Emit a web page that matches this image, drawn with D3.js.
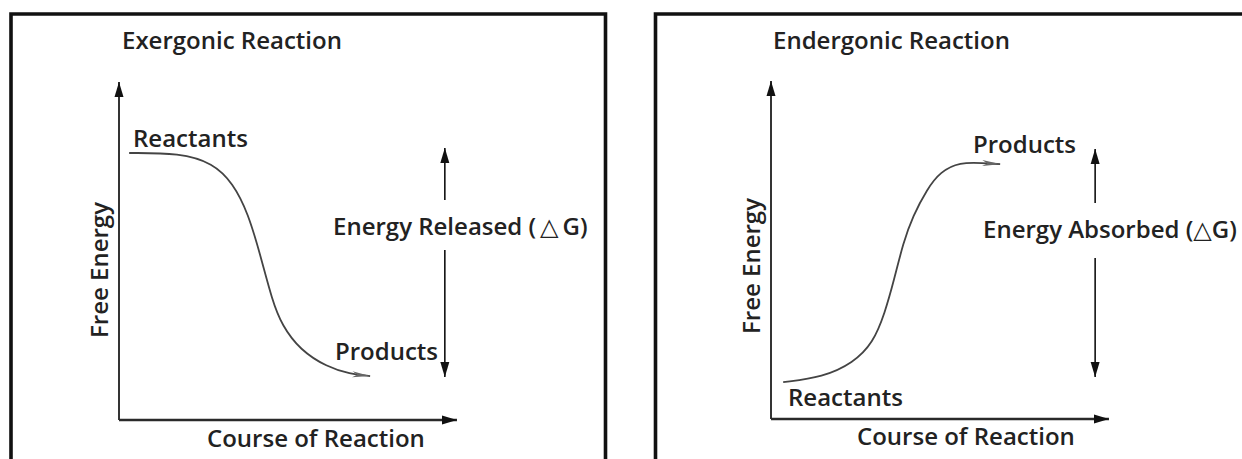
<!DOCTYPE html>
<html>
<head>
<meta charset="utf-8">
<script src="https://d3js.org/d3.v7.min.js"></script>
<style>
  html, body { margin: 0; padding: 0; background: #fff; }
  svg { display: block; }
  text { font-family: "Open Sans", "DejaVu Sans", sans-serif; fill: #222; font-weight: 600; }
</style>
</head>
<body>
<div id="chart"></div>
<script>
// Data (course of reaction 0-100, free energy 0-100)
const panelTitles = ["Exergonic Reaction", "Endergonic Reaction"];
const deltaLabels = ["Energy Released (\u2009\u25B3\u2009G)", "Energy Absorbed (\u25B3G)"];

const exergonicCurve = [
    [3.0, 79.0], [18.0, 79.0], [27.8, 76.0], [33.7, 70.1], [38.2, 61.2],
    [41.9, 48.5], [45.3, 35.5], [48.2, 28.0], [53.6, 20.7], [61.5, 15.7],
    [68.3, 13.6], [74.3, 13.0]
];
const endergonicCurve = [
    [3.6, 10.9], [15.4, 12.4], [24.3, 16.6], [30.2, 22.5], [33.7, 31.4],
    [36.4, 41.1], [39.1, 52.1], [42.0, 60.1], [46.2, 68.0], [50.0, 73.1],
    [55.9, 76.0], [62.7, 75.7], [67.8, 75.4]
];

// energy levels for the delta G arrows: [x, top, bottom]
const exergonicDelta = [96.4, 80.5, 12.7];
const endergonicDelta = [95.9, 79.9, 12.4];

// Layout
const W = 1242, H = 459;
const axisLen = 338;

const panels = [
    {
        title: panelTitles[0], curve: exergonicCurve, delta: exergonicDelta, deltaLabel: deltaLabels[0],
        frame: { x1: 11, x2: 605.5 }, origin: { x: 119, y: 420 },
        titlePos: [122, 49], reactPos: [133, 147], prodPos: [335, 360],
        coursePos: [207, 447], freePos: [108, 270], deltaPos: [333, 235], gap: [200, 250]
    },
    {
        title: panelTitles[1], curve: endergonicCurve, delta: endergonicDelta, deltaLabel: deltaLabels[1],
        frame: { x1: 655.5, x2: 1300 }, origin: { x: 771, y: 419 },
        titlePos: [773, 49], reactPos: [788, 406], prodPos: [973, 153],
        coursePos: [857, 445], freePos: [760, 266], deltaPos: [983, 238], gap: [203, 258]
    }
];

const svg = d3.select("#chart").append("svg").attr("width", W).attr("height", H);
svg.append("rect").attr("width", W).attr("height", H).attr("fill", "#fff");

// --- MARKERS ---
const defs = svg.append("defs");
defs.append("marker").attr("id", "axisHead")
    .attr("markerUnits", "userSpaceOnUse").attr("viewBox", "0 -5 15 10")
    .attr("refX", 15).attr("refY", 0).attr("markerWidth", 15).attr("markerHeight", 10)
    .attr("orient", "auto")
    .append("path").attr("d", "M0,-4.5L15,0L0,4.5Z").attr("fill", "#111");
defs.append("marker").attr("id", "curveHead")
    .attr("markerUnits", "userSpaceOnUse").attr("viewBox", "0 -4 18 8")
    .attr("refX", 18).attr("refY", 0).attr("markerWidth", 18).attr("markerHeight", 8)
    .attr("orient", "auto")
    .append("path").attr("d", "M0,-3L18,0L0,3L5,0Z").attr("fill", "#666");

function drawPanel(p) {
    const g = svg.append("g");

    // frame (open at the bottom / right edge of the window)
    g.append("path")
        .attr("d", `M${p.frame.x1},${H + 10}V14H${p.frame.x2}V${H + 10}`)
        .attr("fill", "none").attr("stroke", "#111").attr("stroke-width", 3.6);

    const x = d3.scaleLinear().domain([0, 100]).range([p.origin.x, p.origin.x + axisLen]);
    const y = d3.scaleLinear().domain([0, 100]).range([p.origin.y, p.origin.y - axisLen]);

    // axes
    g.append("line").attr("x1", x(0)).attr("y1", y(0)).attr("x2", x(0)).attr("y2", y(100))
        .attr("stroke", "#2a2a2a").attr("stroke-width", 1.9).attr("marker-end", "url(#axisHead)");
    g.append("line").attr("x1", x(0)).attr("y1", y(0)).attr("x2", x(100)).attr("y2", y(0))
        .attr("stroke", "#2a2a2a").attr("stroke-width", 2.4).attr("marker-end", "url(#axisHead)");

    // reaction curve
    const line = d3.line().x(d => x(d[0])).y(d => y(d[1])).curve(d3.curveBasis);
    g.append("path").datum(p.curve)
        .attr("d", line)
        .attr("fill", "none").attr("stroke", "#444").attr("stroke-width", 1.8)
        .attr("marker-end", "url(#curveHead)");

    // delta G arrows, split around the label
    const [dx, dTop, dBottom] = p.delta;
    g.append("line").attr("x1", x(dx)).attr("x2", x(dx)).attr("y1", p.gap[0]).attr("y2", y(dTop))
        .attr("stroke", "#111").attr("stroke-width", 1.6).attr("marker-end", "url(#axisHead)");
    g.append("line").attr("x1", x(dx)).attr("x2", x(dx)).attr("y1", p.gap[1]).attr("y2", y(dBottom))
        .attr("stroke", "#111").attr("stroke-width", 1.6).attr("marker-end", "url(#axisHead)");

    // labels
    const fs = "24px";
    g.append("text").attr("x", p.titlePos[0]).attr("y", p.titlePos[1]).style("font-size", fs).text(p.title);
    g.append("text").attr("x", p.reactPos[0]).attr("y", p.reactPos[1]).style("font-size", fs).text("Reactants");
    g.append("text").attr("x", p.prodPos[0]).attr("y", p.prodPos[1]).style("font-size", fs).text("Products");
    g.append("text").attr("x", p.coursePos[0]).attr("y", p.coursePos[1]).style("font-size", fs).text("Course of Reaction");
    g.append("text").attr("x", p.deltaPos[0]).attr("y", p.deltaPos[1]).style("font-size", fs).text(p.deltaLabel);
    g.append("text")
        .attr("transform", `translate(${p.freePos[0]},${p.freePos[1]}) rotate(-90)`)
        .attr("text-anchor", "middle").style("font-size", fs).text("Free Energy");
}

panels.forEach(drawPanel);
</script>
</body>
</html>
